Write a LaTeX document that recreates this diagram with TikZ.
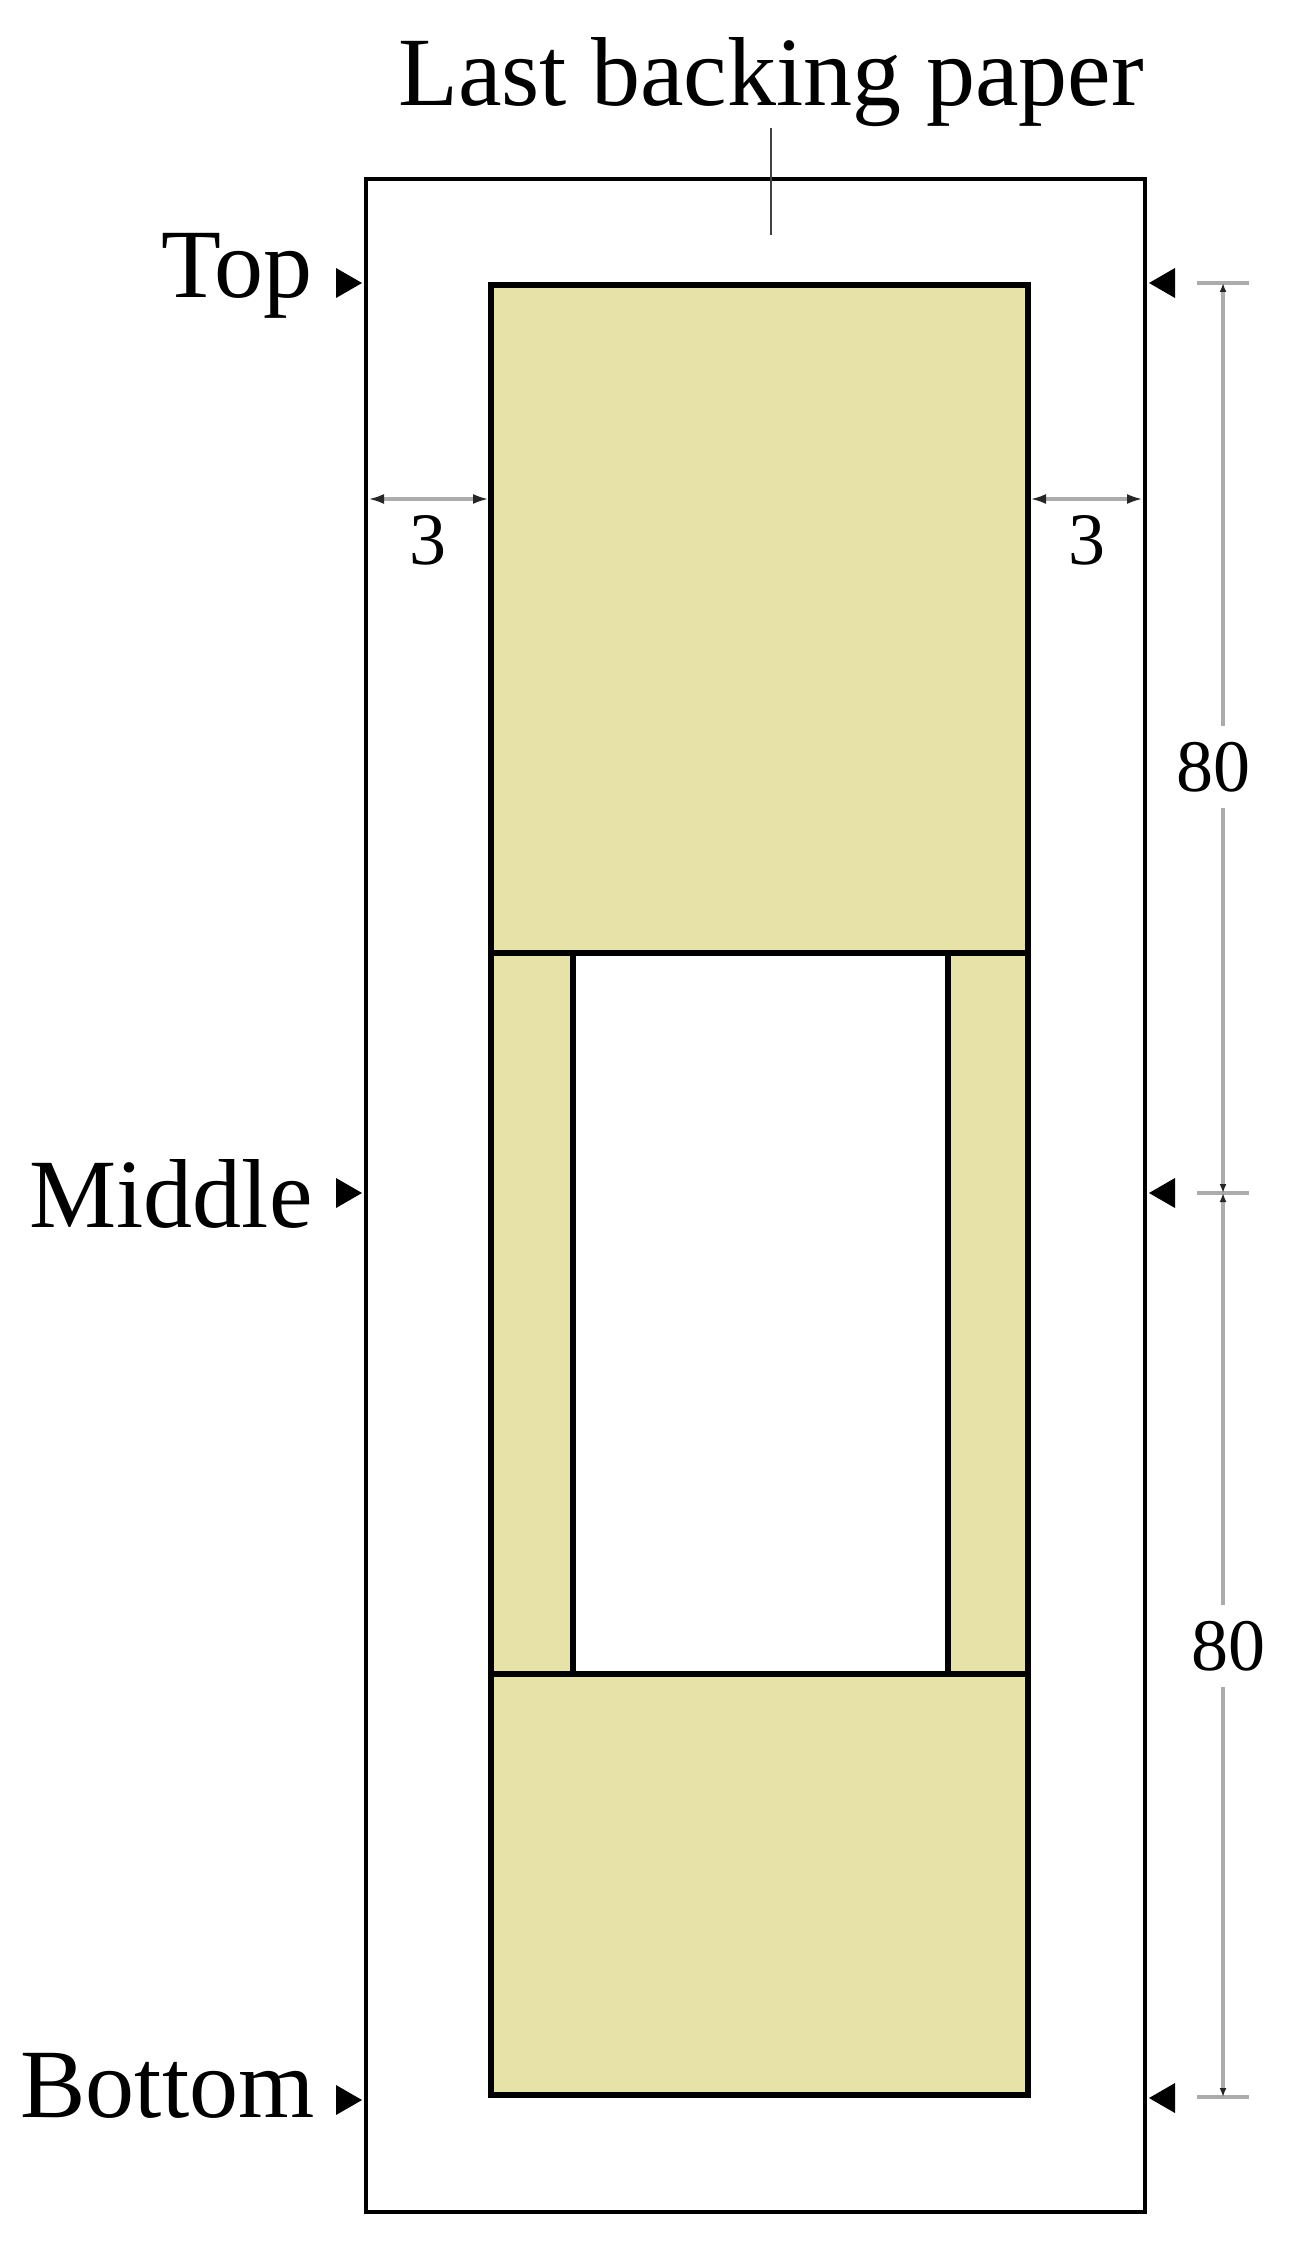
\documentclass[tikz,border=0pt]{standalone}
\usepackage{fontspec}
\setmainfont{Liberation Serif}
\usetikzlibrary{arrows.meta}
\definecolor{paper}{RGB}{230,226,168}
\definecolor{dimgray}{RGB}{172,172,172}

\begin{document}
\begin{tikzpicture}[x=0.5pt,y=-0.5pt,
    lbl/.style={font=\fontsize{49}{58}\selectfont, inner sep=0pt},
    num/.style={font=\fontsize{37}{44}\selectfont, inner sep=0pt},
    gapline/.style={draw=dimgray, line width=1.8pt,
        {Latex[length=8pt,width=5pt,color=black!85]}-{Latex[length=8pt,width=5pt,color=black!85]}},
    dimline/.style={draw=dimgray, line width=1.8pt,
        {Latex[length=4.5pt,width=3.5pt,color=black!85]}-{Latex[length=4.5pt,width=3.5pt,color=black!85]}},
    tick/.style={draw=dimgray, line width=1.8pt}]

    \useasboundingbox (0,0) rectangle (1311,2257);

    % sheets
    \coordinate (outA) at (366,179);
    \coordinate (outB) at (1145,2212);
    \coordinate (inA) at (491,285);
    \coordinate (inB) at (1028,2095);
    \coordinate (winA) at (573,953);
    \coordinate (winB) at (948,1674);

    \draw [line width=2.4pt] (outA) rectangle (outB);
    \filldraw [fill=paper, line width=3pt] (inA) rectangle (inB);
    \filldraw [fill=white, line width=2.6pt] (winA) rectangle (winB);
    \draw [line width=3pt] (inA |- winA) -- (inB |- winA);
    \draw [line width=3pt] (inA |- winB) -- (inB |- winB);

    % texts
    \node [lbl, anchor=base] (title) at (771,106) {Last backing paper};
    \node [lbl, anchor=base east] (top) at (313,298) {Top};
    \node [lbl, anchor=base east] (middle) at (313,1227) {Middle};
    \node [lbl, anchor=base east] (bottom) at (315,2117) {Bottom};

    \coordinate (leadEnd) at (771,235);
    \draw [line width=0.9pt, black!75] (title.south) -- (leadEnd);

    % markers
    \fill (362,283) -- (336,268) -- (336,298) -- cycle;
    \fill (362,1193) -- (336,1178) -- (336,1208) -- cycle;
    \fill (362,2100) -- (336,2085) -- (336,2115) -- cycle;
    \fill (1149,283) -- (1175,268) -- (1175,298) -- cycle;
    \fill (1149,1193) -- (1175,1178) -- (1175,1208) -- cycle;
    \fill (1149,2098) -- (1175,2083) -- (1175,2113) -- cycle;

    % margins
    \coordinate (gapLa) at (368,499);
    \coordinate (gapLb) at (489,499);
    \coordinate (gapRa) at (1030,499);
    \coordinate (gapRb) at (1143,499);
    \draw [gapline] (gapLa) -- (gapLb);
    \draw [gapline] (gapRa) -- (gapRb);
    \node [num] (marginL) at (428,540) {3};
    \node [num] (marginR) at (1087,540) {3};

    % lengths
    \coordinate (dTop) at (1223,283);
    \coordinate (dMid) at (1223,1193);
    \coordinate (dBot) at (1223,2097);
    \draw [tick] ([xshift=-13pt]dTop) -- ([xshift=13pt]dTop);
    \draw [tick] ([xshift=-13pt]dMid) -- ([xshift=13pt]dMid);
    \draw [tick] ([xshift=-13pt]dBot) -- ([xshift=13pt]dBot);
    \draw [dimline] (dTop) -- (dMid);
    \draw [dimline] (dMid) -- (dBot);
    \node [num, fill=white, inner xsep=3pt, inner ysep=8pt] (lenA) at (1213,767) {80};
    \node [num, fill=white, inner xsep=3pt, inner ysep=8pt] (lenB) at (1228,1646) {80};

\end{tikzpicture}
\end{document}
